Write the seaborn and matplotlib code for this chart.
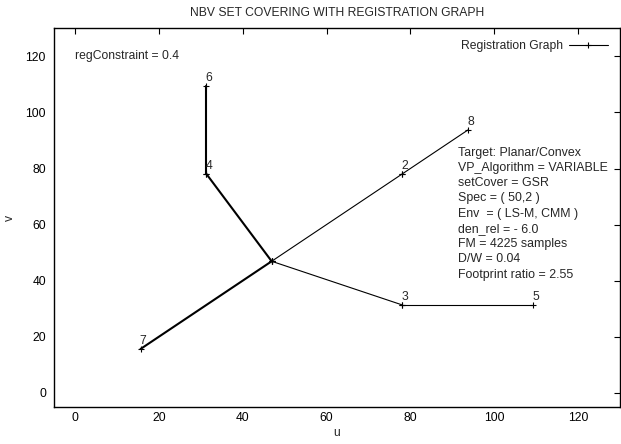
import pandas as pd
import matplotlib
matplotlib.use("Agg")
import matplotlib.pyplot as plt
import seaborn as sns
from matplotlib.lines import Line2D

# node positions of the registration graph
node_ids = [1, 2, 3, 4, 5, 6, 7, 8]
node_u = [46.9, 78.1, 78.1, 31.3, 109.4, 31.3, 15.6, 93.8]
node_v = [46.9, 78.1, 31.3, 78.1, 31.3, 109.4, 15.6, 93.8]
labeled_nodes = [6, 4, 2, 8, 3, 5, 7]

# edges of the tree (from, to)
edges = [(6, 4), (4, 1), (1, 7), (1, 2), (2, 8), (1, 3), (3, 5)]
# edges that appear twice in the data file (drawn heavier)
double_edges = [(6, 4), (4, 1), (1, 7)]

info_lines = [
    "Target: Planar/Convex",
    "VP_Algorithm = VARIABLE",
    "setCover = GSR",
    "Spec = ( 50,2 )",
    "Env  = ( LS-M, CMM )",
    "den_rel = - 6.0",
    "FM = 4225 samples",
    "D/W = 0.04",
    "Footprint ratio = 2.55",
]

pos = {n: (u, v) for n, u, v in zip(node_ids, node_u, node_v)}

rows = []
for k, (a, b) in enumerate(edges):
    for n in (a, b):
        rows.append({"edge": k, "u": pos[n][0], "v": pos[n][1],
                     "double": (a, b) in double_edges})
df = pd.DataFrame(rows)

sns.set_style("white")
plt.rcParams['font.family'] = ['Liberation Sans', 'DejaVu Sans']
FS = 8.7

fig = plt.figure(figsize=(6.21, 4.44), dpi=100)
ax = fig.add_axes([0.0874, 0.084, 0.9106, 0.852])

sns.lineplot(data=df[~df["double"]], x="u", y="v", units="edge", estimator=None,
             sort=False, color="black", lw=0.8, marker="+", markersize=4,
             markeredgewidth=0.8, markeredgecolor="black", ax=ax, legend=False)
sns.lineplot(data=df[df["double"]], x="u", y="v", units="edge", estimator=None,
             sort=False, color="black", lw=1.5, marker="+", markersize=4,
             markeredgewidth=0.8, markeredgecolor="black", ax=ax, legend=False)

for n in labeled_nodes:
    ax.annotate(str(n), pos[n], xytext=(-1, 5), textcoords="offset pixels",
                ha="left", va="baseline", fontsize=FS)

ax.text(0, 120, "regConstraint = 0.4", fontsize=FS, ha="left", va="center")
ax.text(91.4, 87.8, "\n".join(info_lines), fontsize=8.9, ha="left", va="top",
        linespacing=1.36)

ax.set_xlim(-5, 130)
ax.set_ylim(-5, 130)
ax.set_xticks(range(0, 121, 20))
ax.set_yticks(range(0, 121, 20))
ax.tick_params(direction="in", top=True, right=True, length=4.3, width=0.8,
               labelsize=FS, pad=6, colors="black")
ax.tick_params(axis="x", pad=4)
for s in ax.spines.values():
    s.set_linewidth(1.0)
    s.set_color("black")

ax.set_xlabel("u", fontsize=FS, labelpad=2)
ax.set_ylabel("v", fontsize=FS, labelpad=7)
ax.set_title("NBV SET COVERING WITH REGISTRATION GRAPH", fontsize=FS, pad=9)

handle = Line2D([], [], color="black", lw=0.8, marker="+", markersize=4,
                markeredgewidth=0.8)
ax.legend(handles=[handle], labels=["Registration Graph"], loc="upper right",
          frameon=False, markerfirst=False, numpoints=1, fontsize=FS,
          handlelength=3.2, handletextpad=0.5, borderaxespad=0.6)

fig.savefig("out.png", dpi=100)
